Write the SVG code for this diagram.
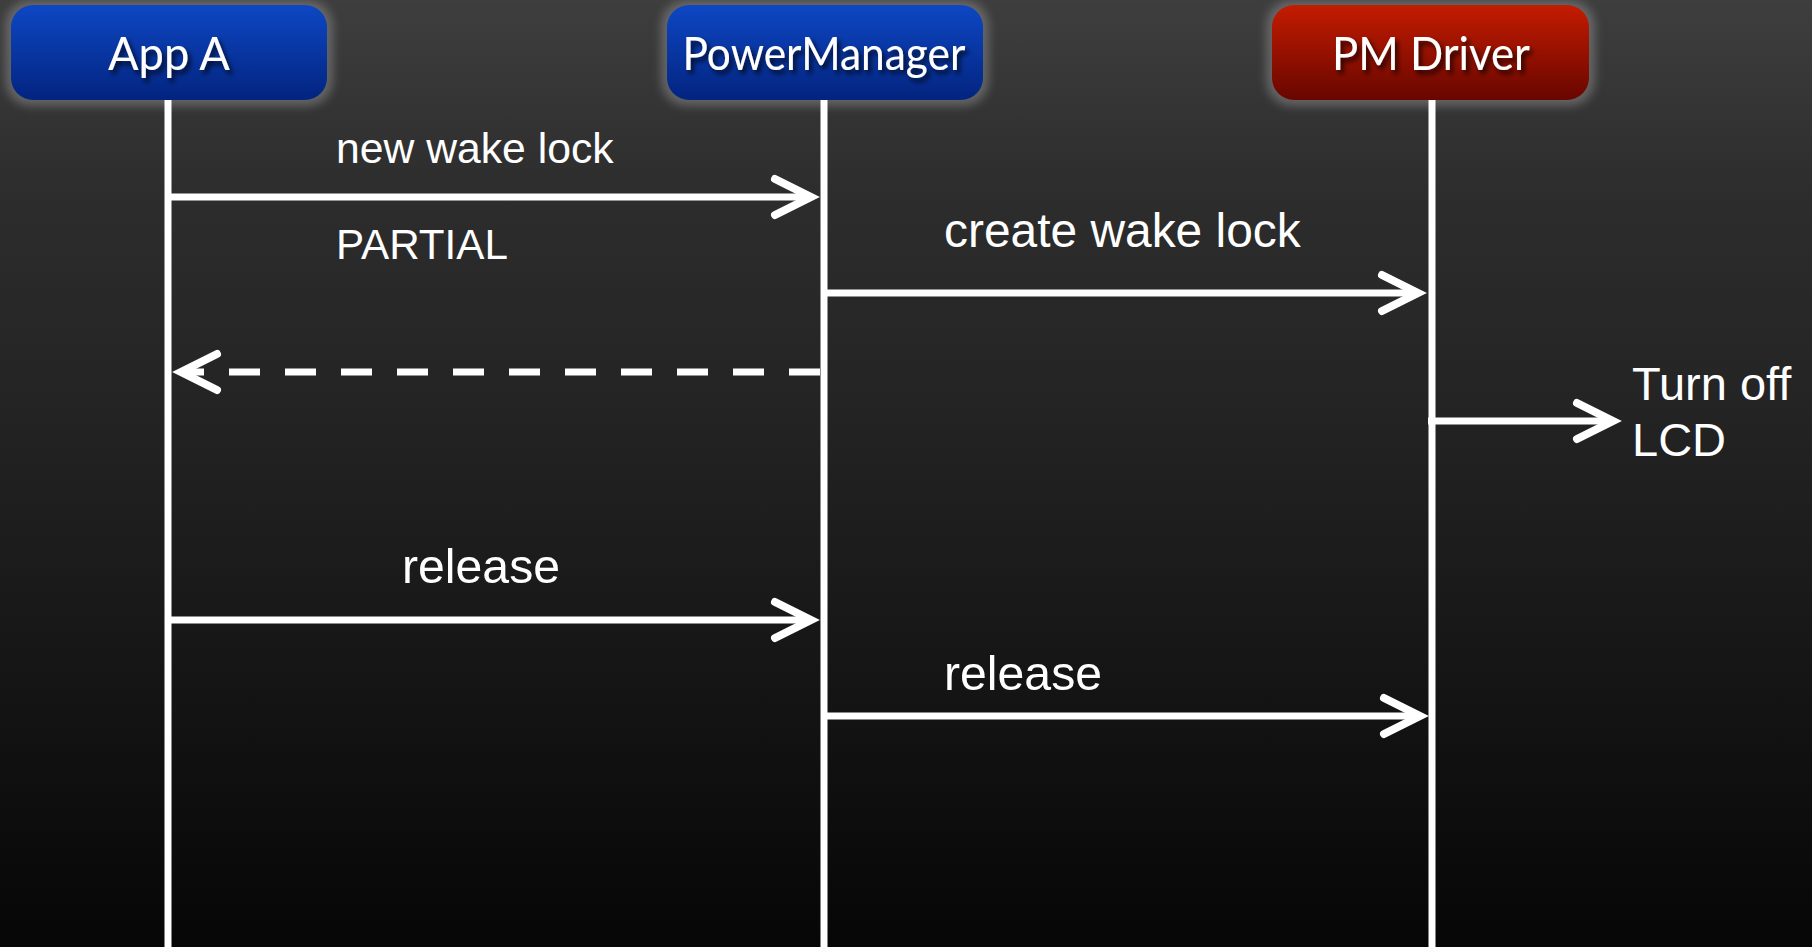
<svg xmlns="http://www.w3.org/2000/svg" width="1812" height="947" viewBox="0 0 1812 947">
  <defs>
    <linearGradient id="bg" x1="0" y1="0" x2="0" y2="1">
      <stop offset="0" stop-color="#3e3e3e"/>
      <stop offset="0.2" stop-color="#2d2d2d"/>
      <stop offset="0.4" stop-color="#252525"/>
      <stop offset="0.6" stop-color="#1b1b1b"/>
      <stop offset="1" stop-color="#060606"/>
    </linearGradient>
    <linearGradient id="blue" x1="0" y1="0" x2="0" y2="1">
      <stop offset="0" stop-color="#0d47c4"/>
      <stop offset="1" stop-color="#03247f"/>
    </linearGradient>
    <linearGradient id="red" x1="0" y1="0" x2="0" y2="1">
      <stop offset="0" stop-color="#c41c00"/>
      <stop offset="1" stop-color="#680600"/>
    </linearGradient>
    <filter id="glow" x="-20%" y="-40%" width="140%" height="180%">
      <feGaussianBlur stdDeviation="5"/>
    </filter>
    <filter id="tshadow" x="-10%" y="-30%" width="120%" height="160%">
      <feDropShadow dx="3" dy="4" stdDeviation="2.5" flood-color="#000" flood-opacity="0.75"/>
    </filter>
    <marker id="arrow" markerUnits="userSpaceOnUse" orient="auto" overflow="visible" markerWidth="50" markerHeight="50" refX="0" refY="0">
      <path d="M -37 -18 L -1 0 L -37 18" fill="none" stroke="#fff" stroke-width="8" stroke-linecap="round" stroke-linejoin="miter"/>
    </marker>
    <style>
      .halo { fill: #8a8a8a; opacity: 0.55; filter: url(#glow); }
      .title { font-family: Lato, "Open Sans", sans-serif; font-size: 46px; fill: #fff; text-anchor: middle; filter: url(#tshadow); }
      .life { stroke: #fff; stroke-width: 7; }
      .msg { stroke: #fff; stroke-width: 7; fill: none; marker-end: url(#arrow); }
      .dash { stroke-dasharray: 31 25; }
      .lbl { font-family: "Liberation Sans", Arial, sans-serif; fill: #fff; }
    </style>
  </defs>

  <rect x="0" y="0" width="1812" height="947" fill="url(#bg)"/>

  <g id="appA">
    <rect class="halo" x="5" y="0" width="328" height="106" rx="26"/>
    <rect x="11" y="5" width="316" height="95" rx="22" fill="url(#blue)"/>
    <text class="title" x="169" y="70" textLength="122" lengthAdjust="spacingAndGlyphs">App A</text>
    <line class="life" x1="168" y1="100" x2="168" y2="947"/>
  </g>

  <g id="powerManager">
    <rect class="halo" x="661" y="0" width="328" height="106" rx="26"/>
    <rect x="667" y="5" width="316" height="95" rx="22" fill="url(#blue)"/>
    <text class="title" x="824" y="70" textLength="283" lengthAdjust="spacingAndGlyphs">PowerManager</text>
    <line class="life" x1="824" y1="100" x2="824" y2="947"/>
  </g>

  <g id="pmDriver">
    <rect class="halo" x="1266" y="0" width="329" height="106" rx="26"/>
    <rect x="1272" y="5" width="317" height="95" rx="22" fill="url(#red)"/>
    <text class="title" x="1431" y="70" textLength="198" lengthAdjust="spacingAndGlyphs">PM Driver</text>
    <line class="life" x1="1432" y1="100" x2="1432" y2="947"/>
  </g>

  <g id="connectors">
    <line class="msg" x1="168" y1="197" x2="812" y2="197"/>
    <line class="msg" x1="824" y1="293" x2="1419" y2="293"/>
    <line class="msg dash" x1="820" y1="372" x2="180" y2="372"/>
    <line class="msg" x1="1428" y1="421" x2="1614" y2="421"/>
    <line class="msg" x1="168" y1="620" x2="812" y2="620"/>
    <line class="msg" x1="824" y1="716" x2="1421" y2="716"/>
  </g>

  <g id="labels">
    <text class="lbl" x="336" y="163" font-size="42.7">new wake lock</text>
    <text class="lbl" x="336" y="259" font-size="42.2">PARTIAL</text>
    <text class="lbl" x="944" y="247" font-size="47.9">create wake lock</text>
    <text class="lbl" x="1632" y="400" font-size="47">Turn off</text>
    <text class="lbl" x="1632" y="456" font-size="47">LCD</text>
    <text class="lbl" x="402" y="583" font-size="48.2">release</text>
    <text class="lbl" x="944" y="690" font-size="48.2">release</text>
  </g>
</svg>
